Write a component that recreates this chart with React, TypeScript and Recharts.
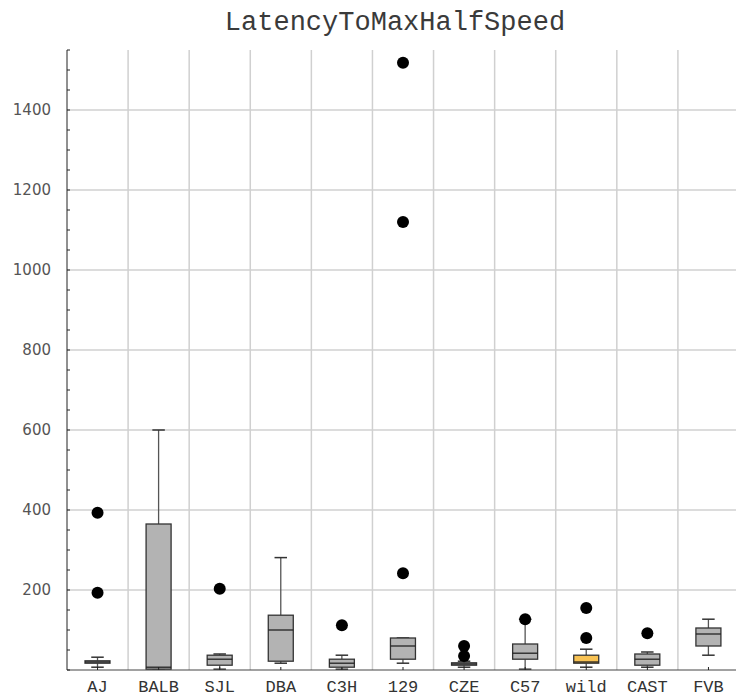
import React from 'react';
import { ComposedChart, Bar, Line, XAxis, YAxis, CartesianGrid } from 'recharts';

const categories = ['AJ', 'BALB', 'SJL', 'DBA', 'C3H', '129', 'CZE', 'C57', 'wild', 'CAST', 'FVB'];
const whiskerLow = [7, 0, 2, 17, 2, 17, 7, 2, 7, 7, 37];
const q1 = [17, 2, 12, 22, 7, 27, 12, 27, 17, 12, 60];
const median = [20, 7, 27, 100, 17, 60, 15, 42, 20, 27, 90];
const q3 = [23, 365, 37, 137, 27, 80, 18, 65, 37, 40, 105];
const whiskerHigh = [32, 600, 40, 281, 37, 80, 22, 127, 52, 45, 127];
const outlierA = [393, null, 203, null, 112, 1518, 60, 127, 155, 92, null];
const outlierB = [193, null, null, null, null, 1120, 35, null, 80, null, null];
const outlierC = [null, null, null, null, null, 242, null, null, null, null, null];

const yMax = 1550;
const majorTicks = [200, 400, 600, 800, 1000, 1200, 1400];
const minorTicks = Array.from({ length: yMax / 50 + 1 }, (_, i) => i * 50);

const highlighted = 'wild';

const data = categories.map((name, i) => ({
  name,
  range: [whiskerLow[i], whiskerHigh[i]],
  low: whiskerLow[i],
  q1: q1[i],
  median: median[i],
  q3: q3[i],
  high: whiskerHigh[i],
  oa: outlierA[i],
  ob: outlierB[i],
  oc: outlierC[i],
}));

const BoxShape = (props: any) => {
  const { x, y, width, height, payload } = props;
  const { low, high } = payload;
  const k = high - low === 0 ? 0 : height / (high - low);
  const toPx = (v: number) => y + (high - v) * k;
  const cx = x + width / 2;
  const cap = width / 2;
  const fill = payload.name === highlighted ? '#f8c253' : '#b3b3b3';
  return (
    <g>
      <line x1={cx} x2={cx} y1={toPx(high)} y2={toPx(payload.q3)} stroke="#555" strokeWidth={1.3} />
      <line x1={cx} x2={cx} y1={toPx(payload.q1)} y2={toPx(low)} stroke="#555" strokeWidth={1.3} />
      <line x1={cx - cap / 2} x2={cx + cap / 2} y1={toPx(high)} y2={toPx(high)} stroke="#333" strokeWidth={1.5} />
      <line x1={cx - cap / 2} x2={cx + cap / 2} y1={toPx(low)} y2={toPx(low)} stroke="#333" strokeWidth={1.5} />
      <rect
        x={x}
        y={toPx(payload.q3)}
        width={width}
        height={Math.max(toPx(payload.q1) - toPx(payload.q3), 1)}
        fill={fill}
        stroke="#333"
        strokeWidth={1.3}
      />
      <line x1={x} x2={x + width} y1={toPx(payload.median)} y2={toPx(payload.median)} stroke="#222" strokeWidth={1.3} />
    </g>
  );
};

const YTick = (props: any) => {
  const { x, y, payload } = props;
  const major = majorTicks.includes(payload.value);
  return (
    <g>
      <line x1={x} x2={x + 3} y1={y} y2={y} stroke="#222" />
      {major && (
        <text x={x - 16} y={y + 5} textAnchor="end" fill="#555" fontSize={15} fontFamily="DejaVu Sans, sans-serif">
          {payload.value}
        </text>
      )}
    </g>
  );
};

const XTick = (props: any) => {
  const { x, y, payload } = props;
  return (
    <g>
      <line x1={x} x2={x} y1={y} y2={y - 3} stroke="#222" />
      <text x={x} y={y + 22} textAnchor="middle" fill="#333" fontSize={17} fontFamily="Liberation Mono, monospace">
        {payload.value}
      </text>
    </g>
  );
};

const verticalGen = ({ offset }: any) => {
  const step = offset.width / categories.length;
  return categories.slice(1).map((_, i) => offset.left + (i + 1) * step);
};

const horizontalGen = ({ yAxis, offset }: any) => {
  if (yAxis && typeof yAxis.scale === 'function') return majorTicks.map((v) => yAxis.scale(v));
  return majorTicks.map((v) => offset.top + offset.height * (1 - v / yMax));
};

export default function App() {
  return (
    <div style={{ position: 'absolute', left: 0, top: 0, width: 736, height: 697, overflow: 'hidden', background: '#fff' }}>
      <div
        style={{
          position: 'absolute',
          left: 0,
          top: 9,
          width: 790,
          textAlign: 'center',
          fontFamily: 'Liberation Mono, monospace',
          fontSize: 27,
          color: '#3a3a3a',
          lineHeight: '28px',
        }}
      >
        LatencyToMaxHalfSpeed
      </div>
      <ComposedChart width={740} height={697} data={data} margin={{ top: 50, right: 1, bottom: 0, left: 0 }}>
        <CartesianGrid
          stroke="#d0d0d0"
          strokeWidth={1.5}
          verticalCoordinatesGenerator={verticalGen}
          horizontalCoordinatesGenerator={horizontalGen}
        />
        <XAxis
          dataKey="name"
          height={27}
          tickSize={0}
          tickMargin={0}
          tickLine={false}
          tick={<XTick />}
          axisLine={{ stroke: '#444' }}
          interval={0}
        />
        <YAxis
          width={67}
          domain={[0, yMax]}
          ticks={minorTicks}
          tickSize={0}
          tickMargin={0}
          tickLine={false}
          tick={<YTick />}
          axisLine={{ stroke: '#222' }}
          interval={0}
          allowDataOverflow
        />
        <Bar dataKey="range" barSize={25} shape={<BoxShape />} isAnimationActive={false} />
        <Line dataKey="oa" stroke="none" dot={{ r: 6, fill: '#000', stroke: 'none' }} activeDot={false} isAnimationActive={false} />
        <Line dataKey="ob" stroke="none" dot={{ r: 6, fill: '#000', stroke: 'none' }} activeDot={false} isAnimationActive={false} />
        <Line dataKey="oc" stroke="none" dot={{ r: 6, fill: '#000', stroke: 'none' }} activeDot={false} isAnimationActive={false} />
      </ComposedChart>
    </div>
  );
}
